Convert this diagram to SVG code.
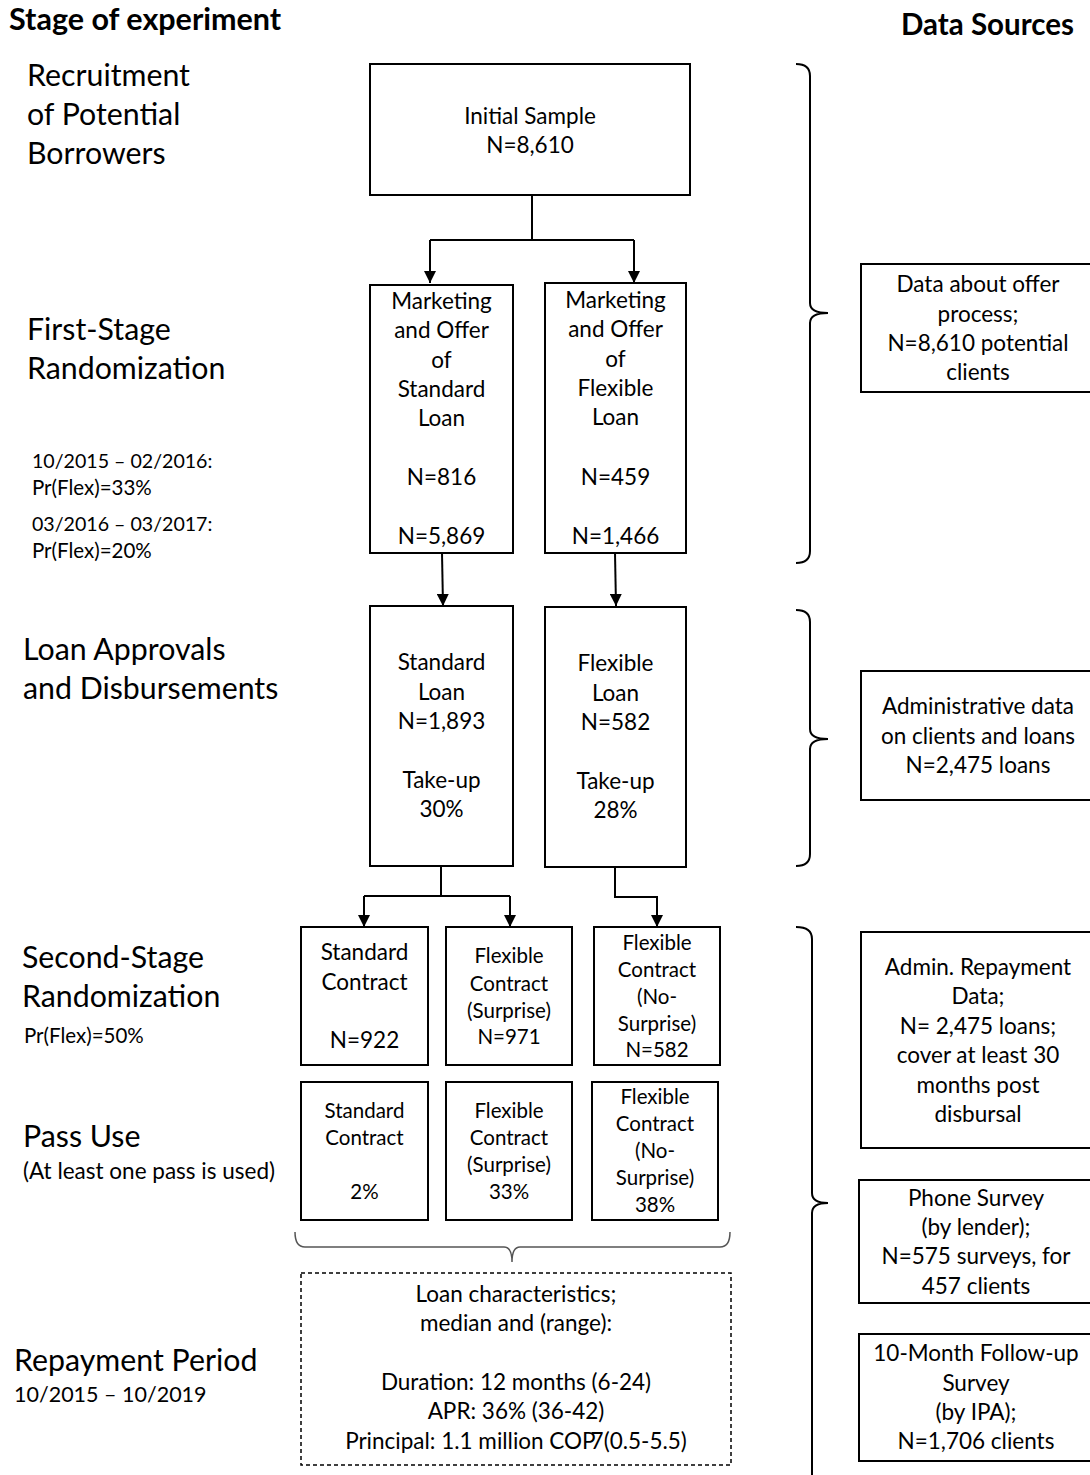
<svg xmlns="http://www.w3.org/2000/svg" width="1090" height="1475" viewBox="0 0 1090 1475">
<defs>
<marker id="arr" viewBox="0 0 10 10" refX="10" refY="5" markerWidth="12" markerHeight="12" markerUnits="userSpaceOnUse" orient="auto">
<path d="M0,0 L10,5 L0,10 z" fill="#000"/>
</marker>
<style>
text{font-family:Lato,"Liberation Sans",sans-serif;fill:#000}
.hd{font-weight:bold;font-size:30.5px}
.st{font-size:30.3px}
.sm{font-size:20.5px}
.dt{font-size:19.6px}
.bx{font-size:22.5px;text-anchor:middle}
.bs{font-size:20.5px;text-anchor:middle}
.box{fill:#fff;stroke:#000;stroke-width:2}
.dash{fill:#fff;stroke:#000;stroke-width:1.5;stroke-dasharray:4 3}
.con{fill:none;stroke:#000;stroke-width:2}
.brace{fill:none;stroke:#000;stroke-width:2}
.brace2{fill:none;stroke:#555;stroke-width:1.5}
</style>
</defs>
<rect width="1090" height="1475" fill="#fff"/>

<g id="headers">
<text class="hd" x="9" y="30">Stage of experiment</text>
<text class="hd" x="901" y="35" style="font-size:29.5px">Data Sources</text>
</g>

<g id="stage-labels">
<text class="st" x="27" y="86">Recruitment</text>
<text class="st" x="27" y="125">of Potential</text>
<text class="st" x="27" y="164">Borrowers</text>
<text class="st" x="27" y="340">First-Stage</text>
<text class="st" x="27" y="379">Randomization</text>
<text class="dt" x="32" y="468">10/2015 – 02/2016:</text>
<text class="sm" x="32" y="495">Pr(Flex)=33%</text>
<text class="dt" x="32" y="531">03/2016 – 03/2017:</text>
<text class="sm" x="32" y="558">Pr(Flex)=20%</text>
<text class="st" x="23" y="660">Loan Approvals</text>
<text class="st" x="23" y="699">and Disbursements</text>
<text class="st" x="22" y="968">Second-Stage</text>
<text class="st" x="22" y="1007">Randomization</text>
<text class="sm" x="24" y="1043">Pr(Flex)=50%</text>
<text class="st" x="23" y="1147">Pass Use</text>
<text class="sm" x="23" y="1179" style="font-size:22.5px">(At least one pass is used)</text>
<text class="st" x="14" y="1371">Repayment Period</text>
<text class="sm" x="14" y="1402" style="font-size:21.5px">10/2015 – 10/2019</text>
</g>

<g id="connectors">
<path class="con" d="M532,195 L532,240 M430,240 L634,240"/>
<path class="con" d="M430,240 L430,283" marker-end="url(#arr)"/>
<path class="con" d="M634,240 L634,283" marker-end="url(#arr)"/>
<path class="con" d="M442,553 L443,606" marker-end="url(#arr)"/>
<path class="con" d="M615,553 L616,606" marker-end="url(#arr)"/>
<path class="con" d="M441,866 L441,896 M364,896 L510,896"/>
<path class="con" d="M364,896 L364,927" marker-end="url(#arr)"/>
<path class="con" d="M510,896 L510,927" marker-end="url(#arr)"/>
<path class="con" d="M615,867 L615,897 L657,897 L657,927" marker-end="url(#arr)"/>
</g>

<g id="braces">
<path class="brace" d="M796,64 Q810,64 810,76 L810,303 Q810,313 828,313 Q810,313 810,323 L810,551 Q810,563 796,563"/>
<path class="brace" d="M796,610 Q810,610 810,622 L810,729 Q810,739 828,739 Q810,739 810,749 L810,854 Q810,866 796,866"/>
<path class="brace" d="M796,927 Q812,927 812,939 L812,1193 Q812,1203 828,1203 Q812,1203 812,1213 L812,1480"/>
<path class="brace2" d="M295,1232 Q295,1247 305,1247 L504,1247 Q512,1247 512,1262 Q512,1247 520,1247 L720,1247 Q730,1247 730,1232"/>
</g>

<g id="initial-sample">
<rect class="box" x="370" y="64" width="320" height="131"/>
<text class="bx" x="530" y="124">Initial Sample</text>
<text class="bx" x="530" y="153">N=8,610</text>
</g>

<g id="offer-standard">
<rect class="box" x="370" y="285" width="143" height="268"/>
<text class="bx" x="441.5" y="309">Marketing</text>
<text class="bx" x="441.5" y="338">and Offer</text>
<text class="bx" x="441.5" y="368">of</text>
<text class="bx" x="441.5" y="397">Standard</text>
<text class="bx" x="441.5" y="426">Loan</text>
<text class="bx" x="441.5" y="485">N=816</text>
<text class="bx" x="441.5" y="544">N=5,869</text>
</g>

<g id="offer-flexible">
<rect class="box" x="545" y="283" width="141" height="270"/>
<text class="bx" x="615.5" y="308">Marketing</text>
<text class="bx" x="615.5" y="337">and Offer</text>
<text class="bx" x="615.5" y="367">of</text>
<text class="bx" x="615.5" y="396">Flexible</text>
<text class="bx" x="615.5" y="425">Loan</text>
<text class="bx" x="615.5" y="485">N=459</text>
<text class="bx" x="615.5" y="544">N=1,466</text>
</g>

<g id="loan-standard">
<rect class="box" x="370" y="606" width="143" height="260"/>
<text class="bx" x="441.5" y="670">Standard</text>
<text class="bx" x="441.5" y="700">Loan</text>
<text class="bx" x="441.5" y="729">N=1,893</text>
<text class="bx" x="441.5" y="788">Take-up</text>
<text class="bx" x="441.5" y="817">30%</text>
</g>

<g id="loan-flexible">
<rect class="box" x="545" y="607" width="141" height="260"/>
<text class="bx" x="615.5" y="671">Flexible</text>
<text class="bx" x="615.5" y="701">Loan</text>
<text class="bx" x="615.5" y="730">N=582</text>
<text class="bx" x="615.5" y="789">Take-up</text>
<text class="bx" x="615.5" y="818">28%</text>
</g>

<g id="contract-standard">
<rect class="box" x="301" y="927" width="127" height="138"/>
<text class="bx" x="364.5" y="960">Standard</text>
<text class="bx" x="364.5" y="990">Contract</text>
<text class="bx" x="364.5" y="1048">N=922</text>
</g>

<g id="contract-surprise">
<rect class="box" x="446" y="927" width="126" height="138"/>
<text class="bs" x="509" y="963">Flexible</text>
<text class="bs" x="509" y="991">Contract</text>
<text class="bs" x="509" y="1018">(Surprise)</text>
<text class="bs" x="509" y="1044">N=971</text>
</g>

<g id="contract-nosurprise">
<rect class="box" x="594" y="927" width="126" height="138"/>
<text class="bs" x="657" y="950">Flexible</text>
<text class="bs" x="657" y="977">Contract</text>
<text class="bs" x="657" y="1004">(No-</text>
<text class="bs" x="657" y="1031">Surprise)</text>
<text class="bs" x="657" y="1057">N=582</text>
</g>

<g id="pass-standard">
<rect class="box" x="301" y="1082" width="127" height="138"/>
<text class="bs" x="364.5" y="1118">Standard</text>
<text class="bs" x="364.5" y="1145">Contract</text>
<text class="bs" x="364.5" y="1199">2%</text>
</g>

<g id="pass-surprise">
<rect class="box" x="446" y="1082" width="126" height="138"/>
<text class="bs" x="509" y="1118">Flexible</text>
<text class="bs" x="509" y="1145">Contract</text>
<text class="bs" x="509" y="1172">(Surprise)</text>
<text class="bs" x="509" y="1199">33%</text>
</g>

<g id="pass-nosurprise">
<rect class="box" x="592" y="1082" width="126" height="138"/>
<text class="bs" x="655" y="1104">Flexible</text>
<text class="bs" x="655" y="1131">Contract</text>
<text class="bs" x="655" y="1158">(No-</text>
<text class="bs" x="655" y="1185">Surprise)</text>
<text class="bs" x="655" y="1212">38%</text>
</g>

<g id="loan-characteristics">
<rect class="dash" x="301" y="1273" width="430" height="192"/>
<text class="bx" x="516" y="1302">Loan characteristics;</text>
<text class="bx" x="516" y="1331">median and (range):</text>
<text class="bx" x="516" y="1390">Duration: 12 months (6-24)</text>
<text class="bx" x="516" y="1419">APR: 36% (36-42)</text>
<text class="bx" x="516" y="1449">Principal: 1.1 million COP<tspan dx="-5">7</tspan>(0.5-5.5)</text>
</g>

<g id="data-offer">
<rect class="box" x="861" y="264" width="235" height="128"/>
<text class="bx" x="978" y="292">Data about offer</text>
<text class="bx" x="978" y="322">process;</text>
<text class="bx" x="978" y="351">N=8,610 potential</text>
<text class="bx" x="978" y="380">clients</text>
</g>

<g id="data-admin">
<rect class="box" x="861" y="671" width="235" height="129"/>
<text class="bx" x="978" y="714">Administrative data</text>
<text class="bx" x="978" y="744">on clients and loans</text>
<text class="bx" x="978" y="773">N=2,475 loans</text>
</g>

<g id="data-repayment">
<rect class="box" x="861" y="932" width="235" height="216"/>
<text class="bx" x="978" y="975">Admin. Repayment</text>
<text class="bx" x="978" y="1004">Data;</text>
<text class="bx" x="978" y="1034">N= 2,475 loans;</text>
<text class="bx" x="978" y="1063">cover at least 30</text>
<text class="bx" x="978" y="1093">months post</text>
<text class="bx" x="978" y="1122">disbursal</text>
</g>

<g id="data-phone">
<rect class="box" x="859" y="1180" width="237" height="123"/>
<text class="bx" x="976" y="1206">Phone Survey</text>
<text class="bx" x="976" y="1235">(by lender);</text>
<text class="bx" x="976" y="1264">N=575 surveys, for</text>
<text class="bx" x="976" y="1294">457 clients</text>
</g>

<g id="data-followup">
<rect class="box" x="859" y="1334" width="237" height="127"/>
<text class="bx" x="976" y="1361">10-Month Follow-up</text>
<text class="bx" x="976" y="1391">Survey</text>
<text class="bx" x="976" y="1420">(by IPA);</text>
<text class="bx" x="976" y="1449">N=1,706 clients</text>
</g>
</svg>
